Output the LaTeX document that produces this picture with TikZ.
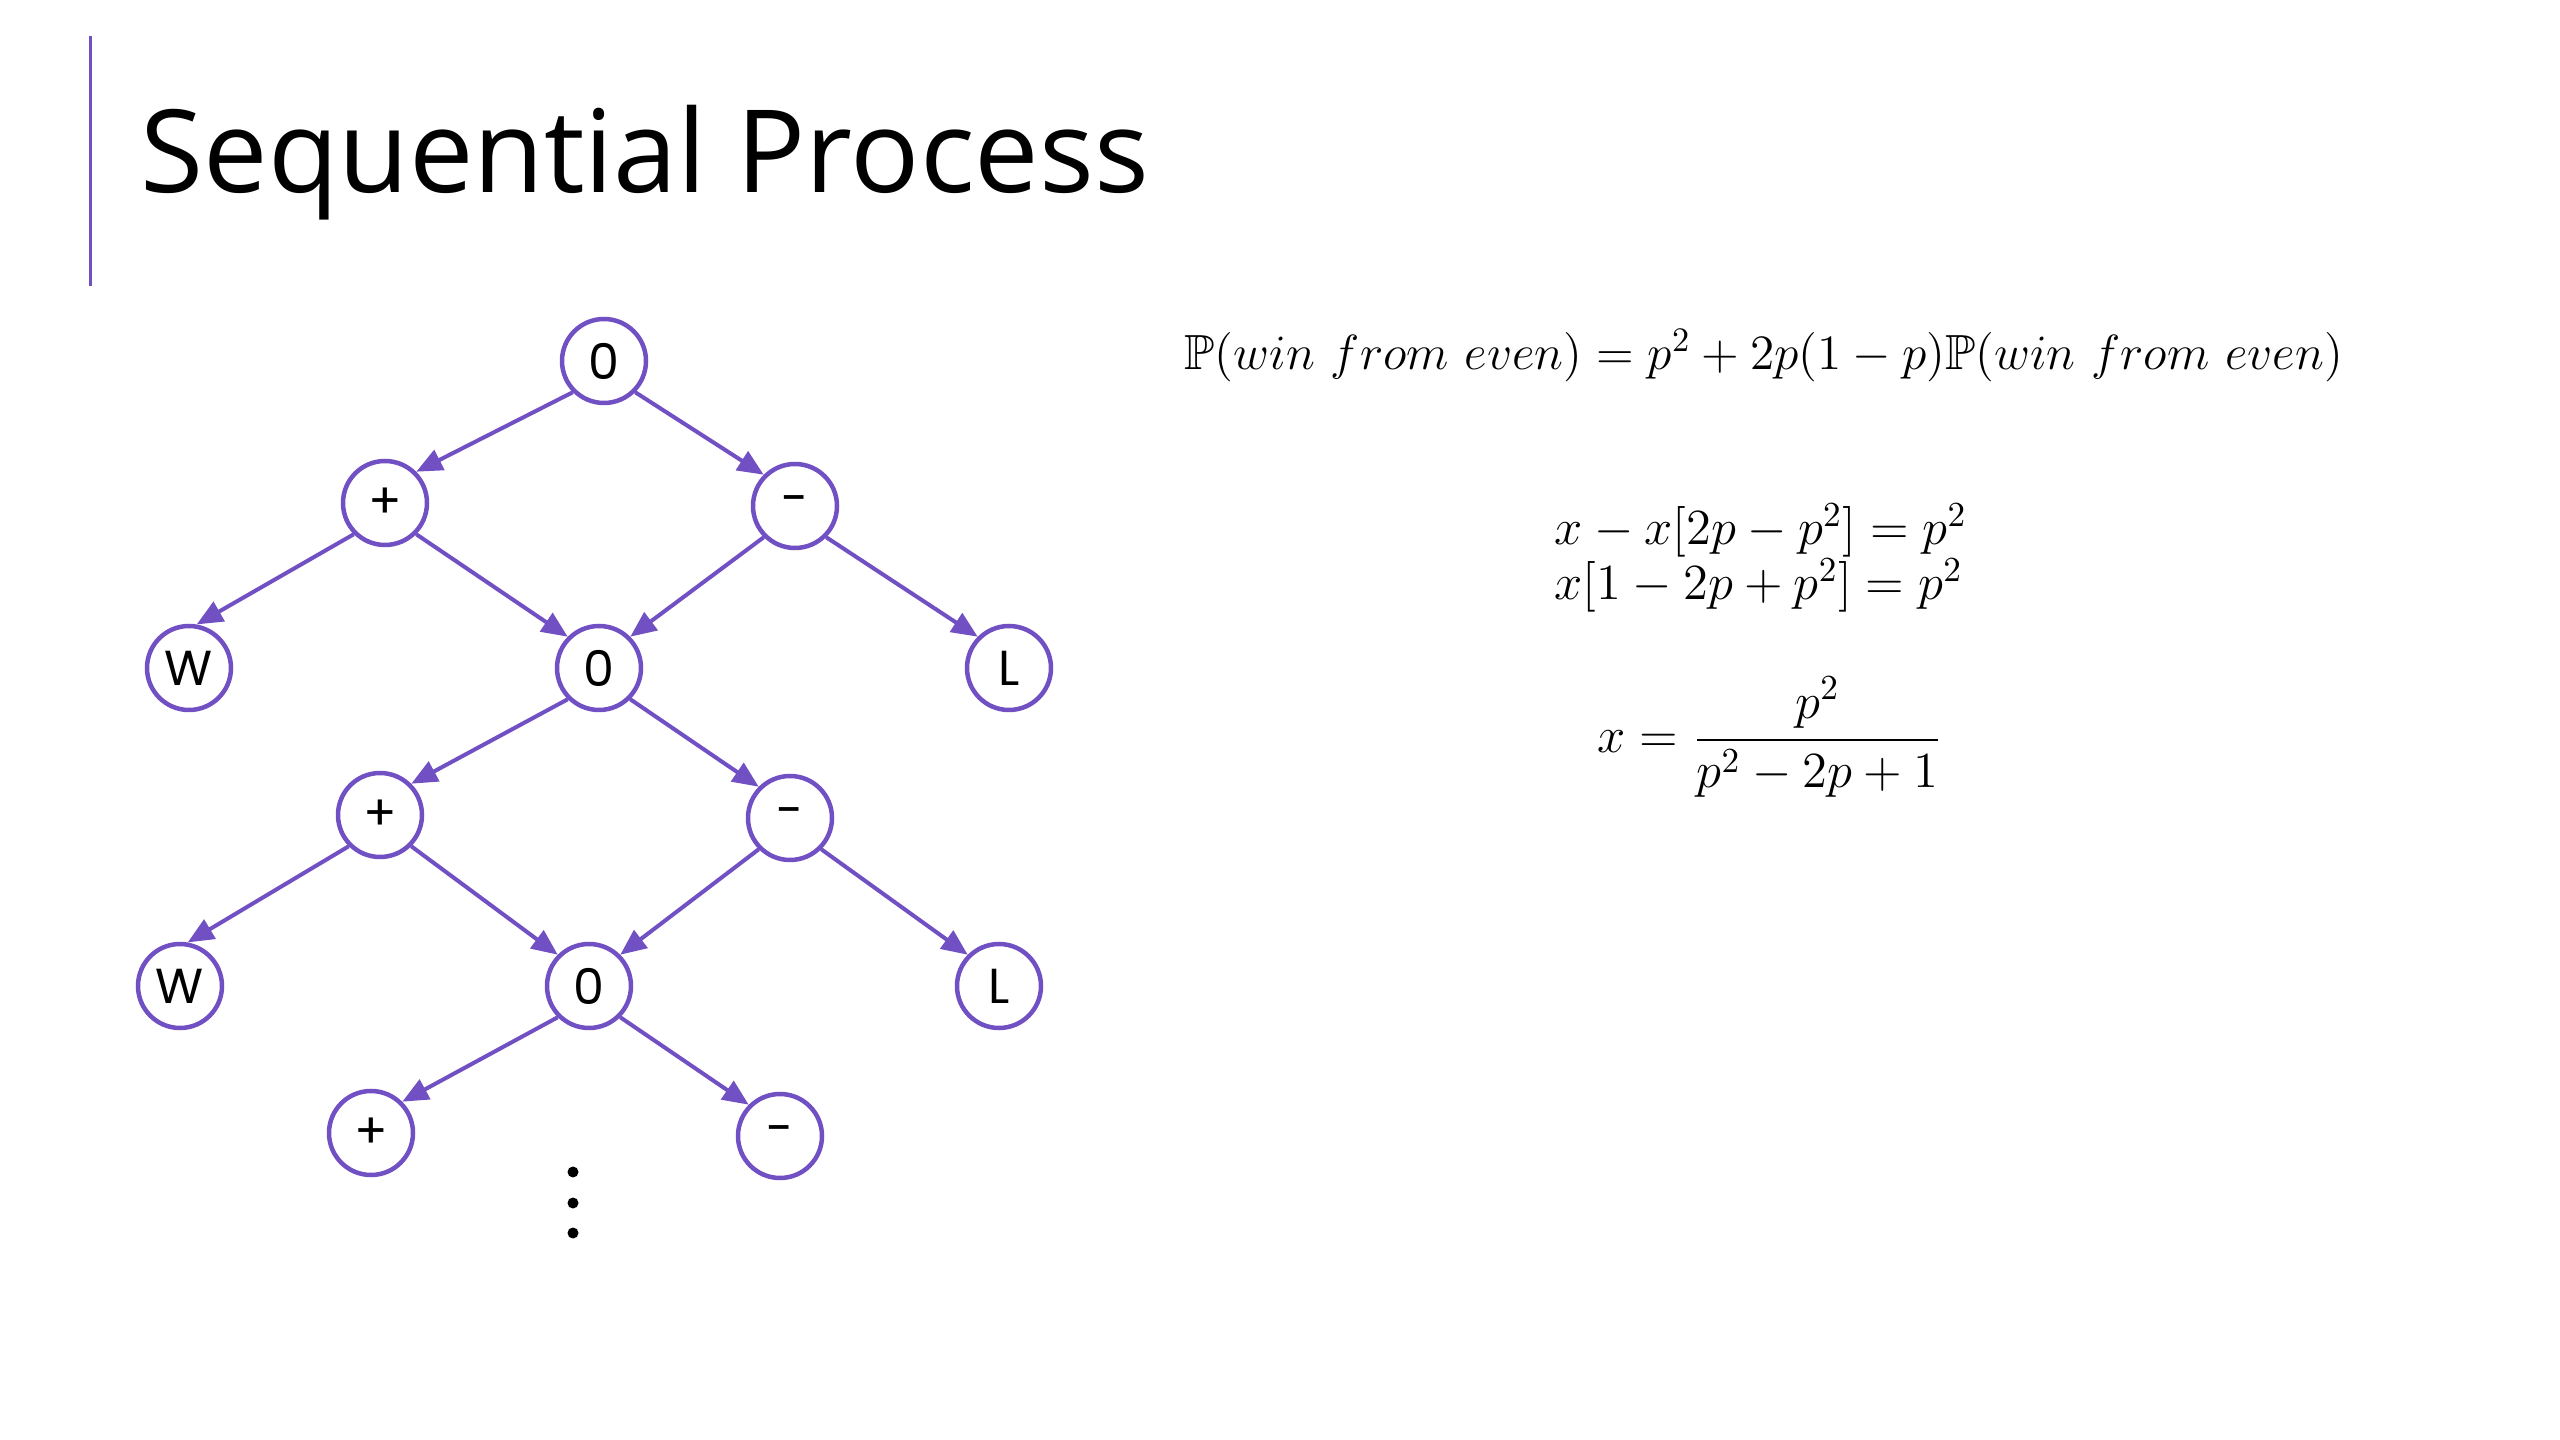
\documentclass[tikz,border=0pt]{standalone}
\usepackage{amsmath,amssymb}
\usepackage{graphicx}
\usepackage{fontspec}
\newfontfamily\titlefont{Open Sans}
\newfontfamily\labelfont{Poppins}
\usetikzlibrary{arrows.meta}
\definecolor{treeviolet}{RGB}{113,80,196}

\begin{document}
\begin{tikzpicture}[
  x=0.1mm, y=-0.1mm, >={Triangle[length=2.6mm, width=2.2mm]},
  state/.style={circle, draw=treeviolet, line width=0.45mm, minimum size=8.4mm, inner sep=0pt,
    font=\labelfont\fontsize{14}{16}\selectfont},
  link/.style={->, draw=treeviolet, fill=treeviolet, line width=0.4mm},
  eqn/.style={inner sep=0pt, font=\fontsize{14.4}{15.5}\selectfont}]
\useasboundingbox (0,0) rectangle (2560,1440);
% title bar
\draw[treeviolet, line width=0.3mm] (90,36) -- (90,286);
\node[anchor=base west, inner sep=0pt, font=\titlefont\fontsize{32.7}{38}\selectfont] (title) at (140,193) {Sequential Process};
% game tree
\node[state] (top) at (604,361) {0};
\node[state] (p1) at (385,503) {+};
\node[state] (m1) at (795,506) {-};
\node[state] (w1) at (189,668) {W};
\node[state] (z1) at (599,668) {0};
\node[state] (l1) at (1009,668) {L};
\node[state] (p2) at (380,815) {+};
\node[state] (m2) at (790,818) {-};
\node[state] (w2) at (180,986) {W};
\node[state] (z2) at (589,986) {0};
\node[state] (l2) at (999,986) {L};
\node[state] (p3) at (371,1133) {+};
\node[state] (m3) at (780,1136) {-};
\draw[link] (top.south west)--(p1.north east); \draw[link] (top.south east)--(m1.north west);
\draw[link] (p1.south west)--(w1.80); \draw[link] (p1.south east)--(z1.north west);
\draw[link] (m1.south west)--(z1.north east); \draw[link] (m1.south east)--(l1.north west);
\draw[link] (z1.south west)--(p2.north east); \draw[link] (z1.south east)--(m2.north west);
\draw[link] (p2.south west)--(w2.80); \draw[link] (p2.south east)--(z2.north west);
\draw[link] (m2.south west)--(z2.north east); \draw[link] (m2.south east)--(l2.north west);
\draw[link] (z2.south west)--(p3.north east); \draw[link] (z2.south east)--(m3.north west);
\foreach \y in {1172,1203,1233} \fill (573,\y) circle (0.55mm);
% equations
\node[eqn] (rec) at (1764,356) {\scalebox{0.976}{$\mathbb{P}(win\ from\ even)=p^2+2p(1-p)\mathbb{P}(win\ from\ even)$}};
\node[eqn, anchor=west, align=left] (lin) at (1554,558) {$x-x[2p-p^2]=p^2$\\$x[1-2p+p^2]=p^2$};
\node[eqn, anchor=west] (sol) at (1597,737) {$\displaystyle x=\frac{p^2}{p^2-2p+1}$};
\end{tikzpicture}
\end{document}
